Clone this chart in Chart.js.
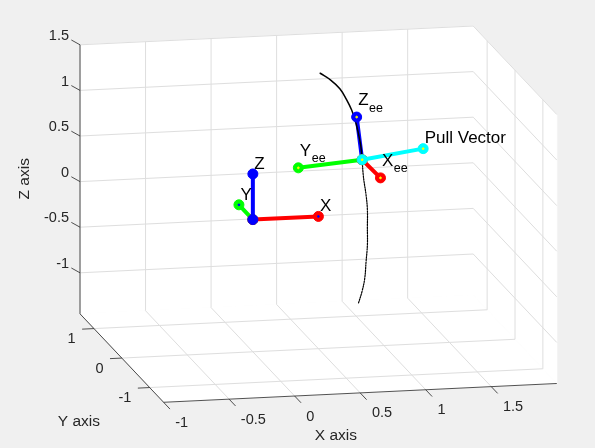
<!DOCTYPE html>
<html>
<head>
<meta charset="utf-8">
<script src="https://cdn.jsdelivr.net/npm/chart.js@4.4.1/dist/chart.umd.min.js"></script>
<style>
  html, body { margin: 0; padding: 0; background: #f0f0f0; }
  #wrap { width: 595px; height: 448px; position: relative; }
</style>
</head>
<body>
<div id="wrap"><canvas id="c"></canvas></div>
<script>
// ---- axis limits and ticks ----
const xLimits = [-1, 2];
const yLimits = [-1.5, 1.5];
const zLimits = [-1.45, 1.5];
const xTicks = [-1, -0.5, 0, 0.5, 1, 1.5];
const yTicks = [-1, 0, 1];
const zTicks = [-1, -0.5, 0, 0.5, 1, 1.5];
const xTickLabels = ['-1', '-0.5', '0', '0.5', '1', '1.5'];
const yTickLabels = ['-1', '0', '1'];
const zTickLabels = ['-1', '-0.5', '0', '0.5', '1', '1.5'];

// ---- base frame (x, y, z) ----
const baseOrigin = [0, 0, 0];
const baseXEnd = [0.5, 0, 0];
const baseYEnd = [0, 0.5, 0];
const baseZEnd = [0, 0, 0.5];

// ---- end-effector frame and pull direction ----
const eeOrigin = [0.94, 0.5, 0.43];
const eeXEnd = [0.98, 0.03, 0.38];
const eeYEnd = [0.50, 0.72, 0.30];
const eeZEnd = [0.93, 0.65, 0.85];
const pullEnd = [1.38, 0.38, 0.56];

// ---- handle trajectory: travelled part and remaining part ----
const pathDoneX = [0.62, 0.70, 0.77, 0.82, 0.86, 0.89, 0.91, 0.93, 0.94];
const pathDoneY = [0.5, 0.5, 0.5, 0.5, 0.5, 0.5, 0.5, 0.5, 0.5];
const pathDoneZ = [1.40, 1.32, 1.22, 1.10, 0.98, 0.85, 0.73, 0.58, 0.43];
const pathAheadX = [0.94, 0.95, 0.97, 0.98, 0.98, 0.98, 0.97, 0.96, 0.94, 0.91];
const pathAheadY = [0.5, 0.5, 0.5, 0.5, 0.5, 0.5, 0.5, 0.5, 0.5, 0.5];
const pathAheadZ = [0.43, 0.24, 0.04, -0.12, -0.32, -0.51, -0.69, -0.87, -1.01, -1.15];

// ---- camera ----
const viewAz = -12;      // degrees
const viewEl = 13;       // degrees
const zAspect = 0.6985;  // plot box stretch of z against x/y
const unitPx = 134;      // pixels per x/y unit
const boxLeft = 80, boxTop = 26;
const W = 595, H = 448;

const deg = Math.PI / 180;
function project(p) {
  const [x, y, z] = p;
  const ca = Math.cos(viewAz * deg), sa = Math.sin(viewAz * deg);
  const ce = Math.cos(viewEl * deg), se = Math.sin(viewEl * deg);
  const depth = -x * sa + y * ca;
  return { x: x * ca + y * sa, y: z * zAspect * ce + depth * se };
}

// projected extent of the plot box
const corners = [];
for (const x of xLimits) for (const y of yLimits) for (const z of zLimits) corners.push(project([x, y, z]));
const hMin = Math.min(...corners.map(c => c.x)), hMax = Math.max(...corners.map(c => c.x));
const vMin = Math.min(...corners.map(c => c.y)), vMax = Math.max(...corners.map(c => c.y));

function toPx(chart, p) {
  const q = project(p);
  return { x: chart.scales.x.getPixelForValue(q.x), y: chart.scales.y.getPixelForValue(q.y) };
}

function zipPath(xs, ys, zs) {
  return xs.map((x, i) => project([x, ys[i], zs[i]]));
}
function segment(a, b) { return [project(a), project(b)]; }

const FONT = '"Liberation Sans", Arial, Helvetica, sans-serif';
const AX = '#262626';

// axes box, grids, ticks and labels
const frame3d = {
  id: 'frame3d',
  beforeDraw(chart) {
    const ctx = chart.ctx;
    ctx.save();
    ctx.fillStyle = '#f0f0f0';
    ctx.fillRect(0, 0, chart.width, chart.height);
    ctx.restore();
  },
  beforeDatasetsDraw(chart) {
    const ctx = chart.ctx;
    const P = p => toPx(chart, p);
    const [x0, x1] = xLimits, [y0, y1] = yLimits, [z0, z1] = zLimits;
    ctx.save();

    const planes = [
      [[x0, y1, z0], [x1, y1, z0], [x1, y1, z1], [x0, y1, z1]],
      [[x1, y1, z0], [x1, y0, z0], [x1, y0, z1], [x1, y1, z1]],
      [[x0, y0, z0], [x1, y0, z0], [x1, y1, z0], [x0, y1, z0]]
    ];
    ctx.fillStyle = '#ffffff';
    ctx.strokeStyle = '#ffffff';
    ctx.lineWidth = 1;
    for (const pl of planes) {
      ctx.beginPath();
      pl.forEach((c, i) => { const q = P(c); if (i) ctx.lineTo(q.x, q.y); else ctx.moveTo(q.x, q.y); });
      ctx.closePath();
      ctx.fill();
      ctx.stroke();
    }

    const line = (a, b) => { const p = P(a), q = P(b); ctx.beginPath(); ctx.moveTo(p.x, p.y); ctx.lineTo(q.x, q.y); ctx.stroke(); };

    // grid
    ctx.strokeStyle = 'rgb(222,222,222)';
    ctx.lineWidth = 1;
    for (const x of xTicks) { line([x, y1, z0], [x, y1, z1]); line([x, y0, z0], [x, y1, z0]); }
    for (const y of yTicks) { line([x1, y, z0], [x1, y, z1]); line([x0, y, z0], [x1, y, z0]); }
    for (const z of zTicks) { line([x0, y1, z], [x1, y1, z]); line([x1, y1, z], [x1, y0, z]); }

    // axis lines and tick marks
    ctx.strokeStyle = 'rgba(38,38,38,0.8)';
    ctx.lineWidth = 1;
    line([x0, y1, z0], [x0, y1, z1]);
    line([x0, y1, z0], [x0, y0, z0]);
    line([x0, y0, z0], [x1, y0, z0]);
    for (const z of zTicks) line([x0, y1, z], [x0 - 0.03, y1 + 0.17, z]);
    for (const x of xTicks) line([x, y0, z0], [x, y0 - 0.23, z0]);
    for (const y of yTicks) line([x0, y, z0], [x0 - 0.09, y, z0]);

    // tick labels
    ctx.fillStyle = AX;
    ctx.font = '14.5px ' + FONT;
    ctx.textBaseline = 'middle';
    ctx.textAlign = 'right';
    zTicks.forEach((z, i) => { const q = P([x0 - 0.02, y1 + 0.3, z]); ctx.fillText(zTickLabels[i], q.x, q.y); });
    yTicks.forEach((y, i) => { const q = P([x0 - 0.14, y, z0 - 0.11]); ctx.fillText(yTickLabels[i], q.x, q.y); });
    ctx.textAlign = 'left';
    xTicks.forEach((x, i) => { const q = P([x, y0 - 0.42, z0 - 0.09]); ctx.fillText(xTickLabels[i], q.x, q.y); });

    // axis titles
    ctx.font = '15.5px ' + FONT;
    ctx.textAlign = 'center';
    let q = P([0.315, y0, z0 - 0.46]);
    ctx.fillText('X axis', q.x, q.y);
    q = P([x0 - 0.327, 0, z0 - 0.671]);
    ctx.fillText('Y axis', q.x, q.y);
    q = P([x0 - 0.42, y1, 0.06]);
    ctx.translate(q.x, q.y);
    ctx.rotate(-Math.PI / 2);
    ctx.fillText('Z axis', 0, 0);
    ctx.restore();
  },
  afterDatasetsDraw(chart) {
    const ctx = chart.ctx;
    const notes = [
      { at: baseXEnd, main: 'X', sub: '' },
      { at: baseYEnd, main: 'Y', sub: '' },
      { at: baseZEnd, main: 'Z', sub: '' },
      { at: eeXEnd, main: 'X', sub: 'ee' },
      { at: eeYEnd, main: 'Y', sub: 'ee' },
      { at: eeZEnd, main: 'Z', sub: 'ee' },
      { at: pullEnd, main: 'Pull Vector', sub: '' }
    ];
    ctx.save();
    ctx.fillStyle = '#000000';
    ctx.textAlign = 'left';
    ctx.textBaseline = 'middle';
    for (const n of notes) {
      const q = toPx(chart, n.at);
      const dy = n.sub ? -17 : -10;
      ctx.font = '17px ' + FONT;
      const x = q.x + 1.5, y = q.y + dy;
      ctx.fillText(n.main, x, y);
      if (n.sub) {
        const w = ctx.measureText(n.main).width;
        ctx.font = '12.5px ' + FONT;
        ctx.fillText(n.sub, x + w + 0.5, y + 8);
      }
    }
    ctx.restore();
  }
};

// datasets listed in paint order, bottom first
const layers = [
  { data: segment(baseOrigin, baseYEnd), borderColor: '#00ff00', borderWidth: 4, pointRadius: 5 },
  { data: segment(baseOrigin, baseXEnd), borderColor: '#ff0000', borderWidth: 4, pointRadius: 5 },
  { data: segment(baseOrigin, baseZEnd), borderColor: '#0000ff', borderWidth: 4, pointRadius: 5 },
  { data: segment(eeOrigin, eeZEnd), borderColor: '#0000ff', borderWidth: 4, pointRadius: 0 },
  { data: zipPath(pathAheadX, pathAheadY, pathAheadZ), borderColor: '#000000', borderWidth: 1.2,
    borderDash: [1.5, 1.2], pointRadius: 0, tension: 0.4 },
  { data: zipPath(pathDoneX, pathDoneY, pathDoneZ), borderColor: '#000000', borderWidth: 1.5,
    pointRadius: 0, tension: 0.4 },
  { data: [project(eeZEnd)], borderColor: '#0000ff', pointRadius: 5, showLine: false },
  { data: segment(eeOrigin, eeYEnd), borderColor: '#00ff00', borderWidth: 4, pointRadius: 5 },
  { data: segment(eeOrigin, eeXEnd), borderColor: '#ff0000', borderWidth: 4, pointRadius: 5 },
  { data: segment(eeOrigin, pullEnd), borderColor: '#00ffff', borderWidth: 4, pointRadius: 5 },
  { data: [baseXEnd, baseYEnd].map(project), borderColor: '#0000ff', pointRadius: 0.9, showLine: false },
  { data: [eeOrigin, eeXEnd, eeYEnd, eeZEnd, pullEnd].map(project), borderColor: '#ffff00', pointRadius: 0.9, showLine: false }
];

const datasets = layers.map((d, i) => Object.assign({
  showLine: true,
  backgroundColor: d.borderColor,
  pointBackgroundColor: d.borderColor,
  pointBorderColor: d.borderColor,
  pointBorderWidth: 1,
  pointHoverRadius: 0,
  borderCapStyle: 'round',
  clip: false,
  order: layers.length - i
}, d));

new Chart(document.getElementById('c'), {
  type: 'scatter',
  data: { datasets },
  options: {
    responsive: true,
    maintainAspectRatio: false,
    animation: false,
    events: [],
    layout: {
      autoPadding: false,
      padding: {
        left: boxLeft,
        top: boxTop,
        right: W - boxLeft - (hMax - hMin) * unitPx,
        bottom: H - boxTop - (vMax - vMin) * unitPx
      }
    },
    scales: {
      x: { type: 'linear', min: hMin, max: hMax, display: false },
      y: { type: 'linear', min: vMin, max: vMax, display: false }
    },
    plugins: { legend: { display: false }, tooltip: { enabled: false } }
  },
  plugins: [frame3d]
});
</script>
</body>
</html>
